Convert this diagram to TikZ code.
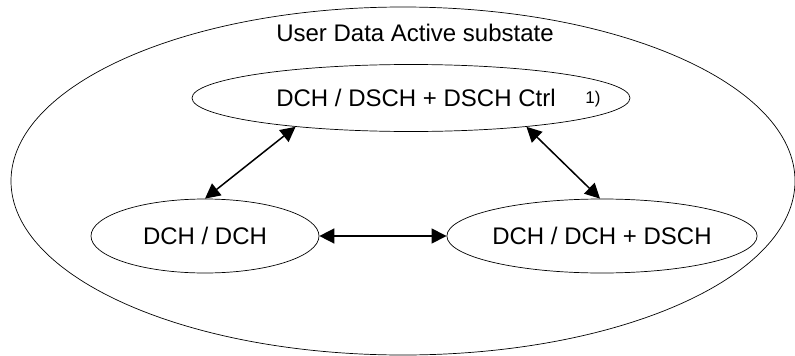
\documentclass[tikz,border=0pt]{standalone}
\usepackage{fontspec}
\setmainfont{Liberation Sans}
\usetikzlibrary{shapes.geometric,arrows.meta}
\begin{document}
\begin{tikzpicture}[x=1pt,y=-1pt,
  state/.style={draw,ellipse,line width=0.7pt,inner sep=0pt,font=\fontsize{24}{28}\selectfont},
  link/.style={line width=1.5pt,{Triangle[length=15pt,width=15pt]}-{Triangle[length=15pt,width=15pt]}},
  lbl/.style={font=\fontsize{24}{28}\selectfont,inner sep=0pt}]
\useasboundingbox (0,0) rectangle (795,356);
\draw[line width=0.7pt] (403,181) ellipse [x radius=392, y radius=174];
\node[lbl] (title) at (415,33) {User Data Active substate};
\node[state,minimum width=438pt,minimum height=67pt] (top) at (411,98) {};
\node[lbl] (toptext) at (416,98) {DCH / DSCH + DSCH Ctrl};
\node[font=\fontsize{17}{20}\selectfont,inner sep=0pt] (note) at (593,99) {1)};
\node[state,minimum width=228pt,minimum height=74pt] (left) at (205,236) {DCH / DCH};
\node[state,minimum width=250pt,minimum height=74pt] (right) at (602,236) {DCH / DCH + DSCH};
\draw[link] (top.194) -- (left.north);
\draw[link] (top.346) -- (right.93);
\draw[link] (left.east) -- (right.west);
\end{tikzpicture}
\end{document}
